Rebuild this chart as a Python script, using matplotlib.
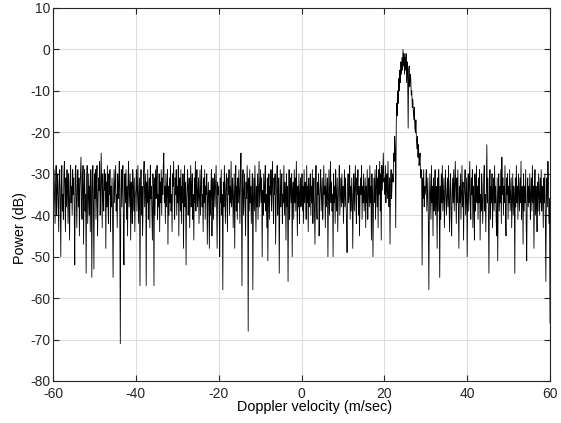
#espectro Doppler: potencia (dB) por velocidade
import numpy as np
import matplotlib
matplotlib.use('Agg')
import matplotlib.pyplot as plt

plt.rcParams['font.family'] = ['Liberation Sans', 'DejaVu Sans']
plt.rcParams['axes.unicode_minus'] = False

PASSO = 0.125  # m/s entre amostras
V_INICIO = -60.0

# potencia, em trechos de velocidade
trecho_60_40 = [
    -31, -38, -29, -35, -42, -33, -28, -40, -34, -30, -37, -44, -32, -29, -36, -50, -33, -28, -39, -35,
    -41, -30, -27, -36, -44, -31, -38, -29, -34, -42, -30, -36, -46, -32, -28, -37, -33, -40, -29, -35,
    -31, -39, -52, -30, -28, -36, -43, -33, -29, -38, -31, -45, -34, -30, -26, -37, -41, -32, -28, -47,
    -33, -29, -39, -35, -54, -31, -28, -42, -36, -30, -40, -33, -44, -29, -35, -55, -32, -28, -38, -53,
    -30, -36, -29, -41, -33, -28, -45, -37, -31, -34, -27, -40, -35, -25, -32, -43, -30, -36, -39, -29,
    -34, -30, -48, -32, -38, -28, -36, -42, -30, -35, -29, -44, -33, -38, -31, -40, -55, -34, -29, -37,
    -32, -28, -39, -35, -43, -30, -36, -33, -27, -40, -71, -34, -29, -38, -31, -28, -42, -52, -33, -30,
    -37, -29, -41, -33, -45, -31, -27, -38, -34, -30, -46, -32, -36, -42, -29, -33, -39, -31, -44, -35]
trecho_40_20 = [
    -34, -29, -39, -33, -28, -42, -36, -31, -57, -35, -29, -40, -33, -45, -37, -30, -27, -38, -34, -30,
    -57, -32, -37, -29, -41, -35, -31, -43, -28, -36, -33, -39, -46, -30, -34, -57, -31, -40, -29, -36,
    -33, -28, -41, -35, -38, -30, -44, -32, -37, -29, -40, -31, -35, -28, -25, -37, -33, -42, -30, -38,
    -34, -29, -47, -33, -40, -31, -37, -28, -39, -35, -44, -30, -33, -27, -36, -41, -31, -35, -29, -40,
    -33, -37, -28, -45, -34, -31, -39, -29, -42, -33, -37, -30, -48, -35, -28, -38, -32, -52, -36, -33,
    -29, -40, -34, -31, -43, -36, -28, -38, -33, -30, -41, -35, -46, -31, -37, -27, -39, -33, -29, -38,
    -35, -31, -42, -36, -29, -40, -33, -28, -38, -35, -44, -31, -37, -29, -41, -33, -35, -30, -47, -36,
    -32, -38, -48, -34, -40, -33, -29, -45, -36, -31, -41, -34, -30, -38, -33, -28, -37, -48, -32, -35]
trecho_20_0 = [
    -33, -39, -50, -31, -37, -29, -40, -35, -58, -32, -38, -28, -35, -42, -33, -30, -37, -44, -31, -35,
    -29, -40, -33, -37, -27, -38, -35, -31, -43, -36, -30, -48, -34, -28, -39, -33, -41, -31, -37, -29,
    -34, -42, -31, -25, -37, -57, -33, -29, -40, -35, -30, -38, -45, -32, -36, -28, -34, -68, -31, -39,
    -29, -37, -33, -42, -35, -30, -58, -37, -31, -39, -28, -35, -44, -33, -38, -30, -41, -34, -27, -38,
    -33, -29, -37, -31, -50, -34, -40, -30, -37, -33, -28, -39, -35, -43, -31, -51, -36, -30, -41, -33,
    -35, -29, -39, -33, -27, -37, -42, -31, -35, -30, -47, -36, -33, -28, -40, -34, -31, -54, -37, -29,
    -38, -33, -30, -42, -35, -37, -28, -40, -32, -35, -46, -30, -38, -33, -56, -36, -29, -41, -34, -31,
    -37, -30, -50, -34, -32, -41, -29, -37, -31, -39, -27, -35, -45, -33, -38, -30, -42, -35, -31, -38]
trecho_0_20 = [
    -35, -30, -39, -33, -42, -29, -37, -32, -35, -41, -28, -37, -33, -44, -31, -38, -35, -30, -40, -33,
    -37, -29, -42, -35, -31, -39, -47, -33, -28, -37, -41, -32, -35, -30, -45, -36, -33, -29, -39, -35,
    -31, -41, -37, -28, -35, -33, -43, -30, -38, -35, -31, -50, -36, -29, -40, -33, -27, -37, -32, -39,
    -35, -50, -30, -37, -33, -42, -29, -35, -39, -31, -44, -36, -33, -28, -40, -35, -31, -38, -30, -37,
    -33, -42, -35, -29, -38, -31, -37, -41, -49, -33, -30, -37, -35, -28, -41, -33, -39, -31, -36, -48,
    -35, -30, -39, -33, -28, -37, -42, -31, -35, -29, -40, -33, -45, -36, -31, -35, -28, -41, -33, -37,
    -30, -39, -35, -31, -43, -33, -37, -29, -41, -35, -31, -38, -28, -37, -33, -46, -30, -35, -50, -38,
    -31, -37, -29, -41, -33, -28, -38, -31, -43, -29, -35, -27, -39, -30, -46, -28, -34, -30, -25, -32]
trecho_20_30 = [
    -31, -35, -28, -37, -33, -30, -36, -27, -34, -38, -31, -47, -33, -29, -36, -32,
    -30, -32, -25, -27, -21, -24, -43, -18, -13, -16, -10, -13, -7, -10, -5, -8,
    -3, -6, -2, -5, 0, -4, -1, -6, -2, -5, -1, -8, -3, -6, -19, -5,
    -4, -9, -6, -7, -11, -10, -14, -12, -15, -17, -14, -19, -20, -17, -22, -24,
    -21, -26, -23, -28, -27, -25, -31, -29, -30, -52, -31, -36, -29, -38, -33, -35]
trecho_30_60 = [
    -33, -29, -39, -35, -31, -42, -58, -37, -30, -35, -41, -28, -37, -33, -45, -31, -39, -35, -29, -40,
    -33, -37, -48, -31, -39, -29, -35, -55, -33, -41, -30, -37, -28, -39, -35, -31, -43, -36, -29, -34,
    -40, -35, -31, -38, -28, -37, -44, -33, -30, -40, -45, -35, -31, -37, -29, -39, -33, -27, -35, -42,
    -31, -37, -29, -39, -48, -33, -37, -30, -41, -35, -28, -38, -32, -46, -36, -33, -29, -40, -35, -31,
    -50, -35, -30, -39, -33, -27, -37, -41, -31, -35, -29, -43, -33, -37, -46, -30, -39, -35, -28, -37,
    -33, -41, -31, -37, -29, -46, -35, -39, -30, -33, -42, -36, -31, -28, -39, -35, -44, -33, -23, -37,
    -31, -39, -54, -35, -29, -41, -33, -37, -30, -43, -35, -31, -39, -28, -37, -33, -41, -45, -31, -51,
    -35, -30, -39, -33, -37, -29, -42, -26, -35, -31, -40, -33, -37, -28, -39, -45, -31, -35, -30, -41,
    -33, -37, -29, -39, -35, -31, -43, -36, -30, -40, -33, -35, -54, -31, -38, -28, -37, -33, -41, -30,
    -35, -39, -31, -37, -27, -41, -33, -35, -47, -30, -39, -33, -37, -29, -42, -51, -35, -31, -38, -33,
    -37, -30, -41, -35, -31, -39, -28, -37, -33, -48, -35, -29, -40, -33, -37, -44, -32, -39, -30, -35,
    -40, -31, -37, -29, -39, -33, -35, -43, -31, -37, -30, -41, -56, -35, -31, -38, -27, -33, -42, -36,
    -66]

potencia = np.array(trecho_60_40 + trecho_40_20 + trecho_20_0 + trecho_0_20
                    + trecho_20_30 + trecho_30_60, dtype=float)
velocidade = V_INICIO + PASSO * np.arange(len(potencia))

fig = plt.figure(figsize=(5.61, 4.23), dpi=100)
ax = fig.add_axes([0.0945, 0.0993, 0.8859, 0.8818])
ax.plot(velocidade, potencia, color='black', linewidth=0.6)

ax.set_xlim(-60, 60)
ax.set_ylim(-80, 10)
ax.set_xticks(np.arange(-60, 61, 20))
ax.set_yticks(np.arange(-80, 11, 10))
ax.grid(True, color='#dedede', linewidth=0.8)
ax.set_axisbelow(True)
ax.tick_params(direction='in', length=4, top=True, right=True, labelsize=10, colors='#262626')
ax.tick_params(axis='y', pad=2)
ax.tick_params(axis='x', pad=4)
for lado in ax.spines.values():
    lado.set_color('#262626')
    lado.set_linewidth(0.8)

ax.set_xlabel('Doppler velocity (m/sec)', fontsize=10.4, labelpad=1)
ax.set_ylabel('Power (dB)', fontsize=10.4, labelpad=2)
ax.xaxis.set_label_coords(0.527, -0.05, transform=ax.transAxes)
ax.yaxis.label.set_y(0.41)

fig.savefig('out.png', dpi=100)
